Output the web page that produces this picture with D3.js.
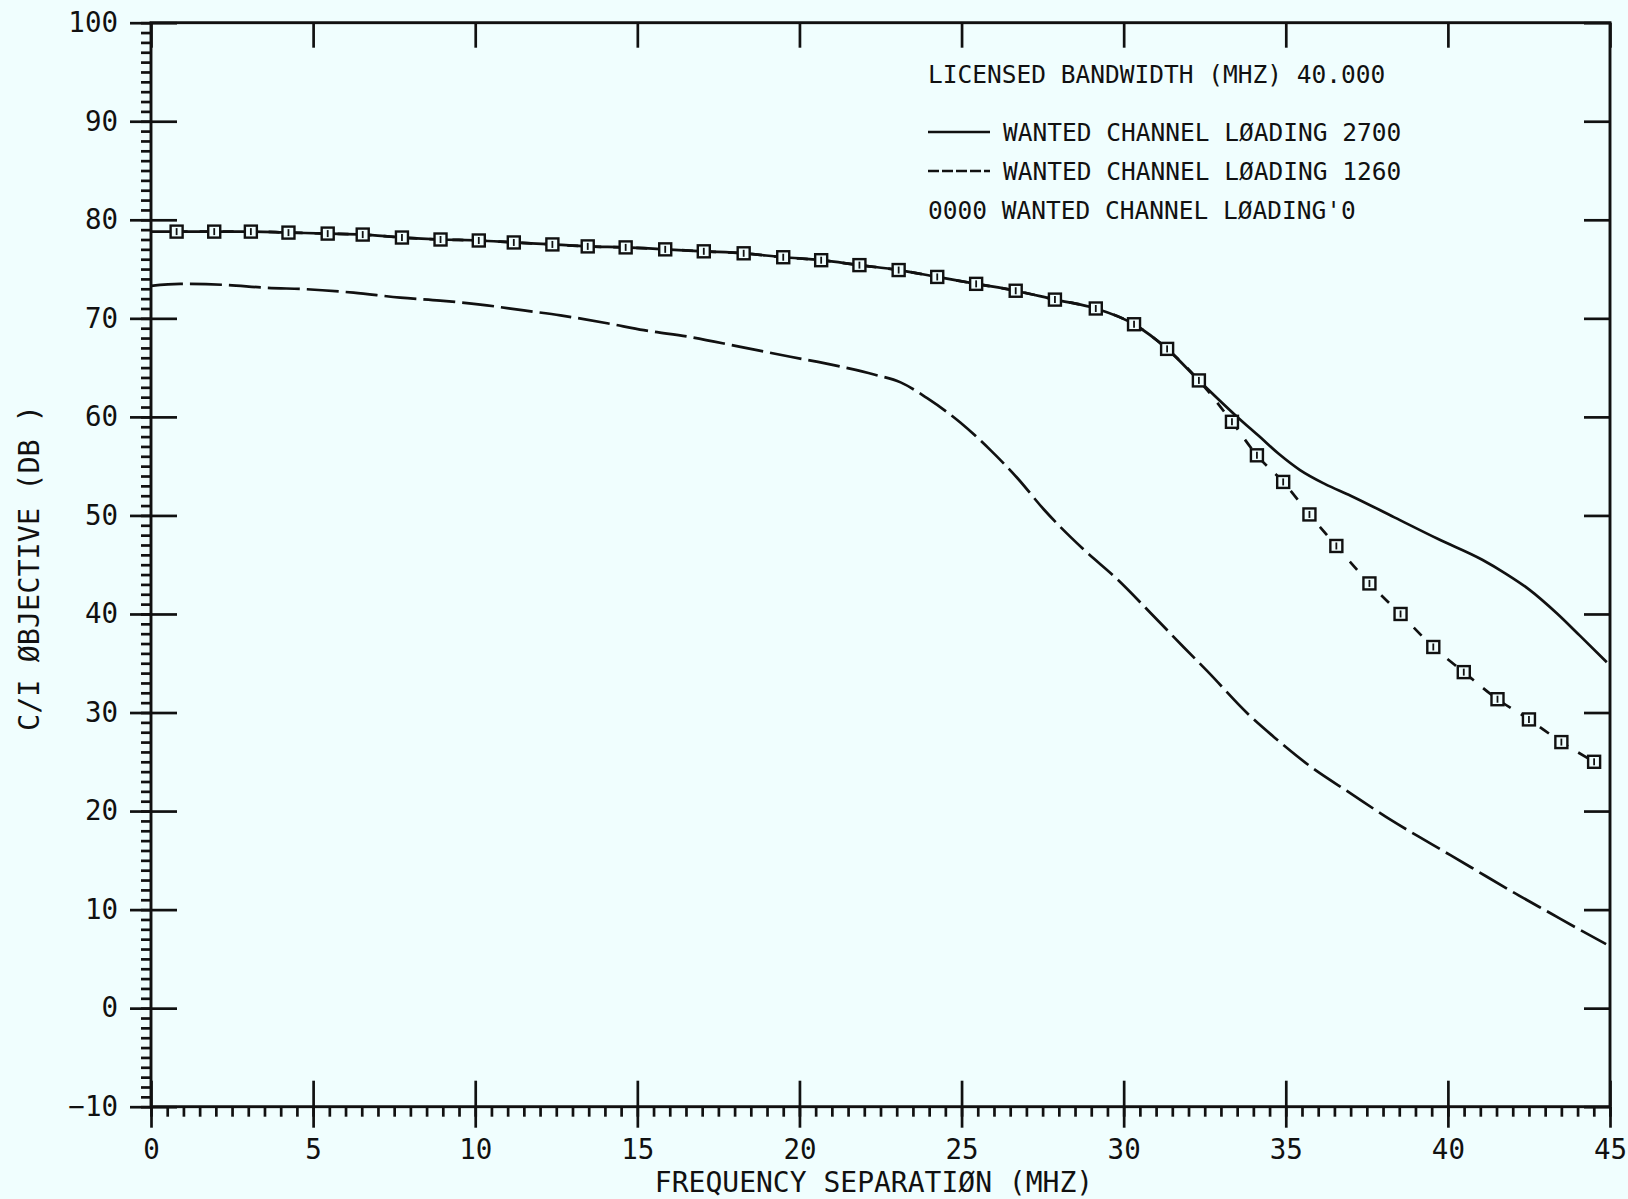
<!DOCTYPE html>
<html>
<head>
<meta charset="utf-8">
<script src="https://cdnjs.cloudflare.com/ajax/libs/d3/7.8.5/d3.min.js"></script>
<style>
	body { margin: 0; background: #f0fefe; }
	svg text { font-family: "DejaVu Sans Mono", "Liberation Mono", monospace; fill: #111; }
</style>
</head>
<body>
<svg id="chart" width="1628" height="1199"></svg>
<script>
// frequency separation (MHz), C/I objective (dB)
var loading2700 = [[0,78.8],[0.79,78.8],[1.95,78.8],[3.08,78.8],[4.24,78.7],[5.45,78.6],[6.53,78.5],[7.74,78.2],
	[8.93,78.0],[10.11,77.9],[11.19,77.7],[12.38,77.5],[13.47,77.3],[14.64,77.2],[15.86,77.0],[17.05,76.8],
	[18.28,76.6],[19.5,76.2],[20.67,75.9],[21.85,75.4],[23.06,74.9],[24.25,74.2],[25.45,73.5],[26.67,72.8],
	[27.88,71.9],[29.14,71.0],[30.32,69.4],[31.34,66.9],[32.32,63.7],[33.47,60.1],[34.19,58.0],[34.8,56.2],
	[35.44,54.6],[36.2,53.2],[37.0,52.0],[38.35,49.8],[39.7,47.6],[41.06,45.5],[41.78,44.1],[42.5,42.5],
	[43.35,40.1],[44.07,37.8],[44.9,35.1]];
var loading1260 = [[0,73.3],[0.9,73.5],[2.23,73.4],[3.57,73.1],[4.81,72.95],[6.25,72.6],[7.69,72.1],[8.92,71.8],
	[10.16,71.4],[11.5,70.8],[12.63,70.3],[14.07,69.5],[15.2,68.8],[16.64,68.1],[18.18,67.1],[19.72,66.1],
	[21.27,65.1],[22.3,64.3],[23.12,63.5],[23.94,61.9],[24.97,59.4],[25.9,56.6],[26.72,53.8],[27.54,50.6],
	[28.78,46.5],[29.81,43.5],[30.83,40.1],[31.86,36.6],[32.58,34.2],[33.82,29.9],[34.64,27.5],[35.77,24.5],
	[37.0,21.8],[38.24,19.1],[39.47,16.7],[40.71,14.3],[41.94,11.9],[43.18,9.6],[44.1,7.9],[44.88,6.5]];
var loading0 = [[0.79,78.8],[1.95,78.8],[3.08,78.8],[4.24,78.7],[5.45,78.6],[6.53,78.5],[7.74,78.2],[8.93,78.0],
	[10.11,77.9],[11.19,77.7],[12.38,77.5],[13.47,77.3],[14.64,77.2],[15.86,77.0],[17.05,76.8],[18.28,76.6],
	[19.5,76.2],[20.67,75.9],[21.85,75.4],[23.06,74.9],[24.25,74.2],[25.45,73.5],[26.67,72.8],[27.88,71.9],
	[29.14,71.0],[30.32,69.4],[31.34,66.9],[32.32,63.7],[33.34,59.5],[34.11,56.1],[34.92,53.4],[35.73,50.1],
	[36.56,46.9],[37.58,43.1],[38.54,40.0],[39.55,36.65],[40.49,34.1],[41.53,31.35],[42.5,29.3],[43.5,27.0],
	[44.51,25.0]];

var xMajor = d3.range(0, 46, 5);
var xMinor = d3.range(0, 45.01, 0.5);
var yMajor = d3.range(-10, 101, 10);
var yMinor = d3.range(-10, 101, 1);
var legendRows = ["LICENSED BANDWIDTH (MHZ) 40.000", "WANTED CHANNEL LØADING 2700", "WANTED CHANNEL LØADING 1260", "0000 WANTED CHANNEL LØADING'0"];

var padL = 151, padR = 1610, padT = 22.7, padB = 1106.7;
var ink = "#111";

var svg = d3.select("#chart");
var x = d3.scaleLinear().domain([0, 45]).range([padL, padR]);
var y = d3.scaleLinear().domain([-10, 100]).range([padB, padT]);

function styleAxis(g){
	g.select(".domain").remove();
	g.selectAll("line").attr("stroke", ink).attr("stroke-width", 2.7);
	g.selectAll("text").attr("fill", ink).style("font-size", "27.5px");
}

// left axis: minor out, major out + in
svg.append("g").attr("transform", "translate("+padL+",0)")
	.call(d3.axisLeft(y).tickValues(yMinor).tickSize(10).tickFormat("")).call(styleAxis);
svg.append("g").attr("transform", "translate("+padL+",0)")
	.call(d3.axisLeft(y).tickValues(yMajor).tickSize(21).tickPadding(12)).call(styleAxis);
svg.append("g").attr("transform", "translate("+padL+",0)")
	.call(d3.axisRight(y).tickValues(yMajor).tickSize(26).tickFormat("")).call(styleAxis);
// right axis
svg.append("g").attr("transform", "translate("+padR+",0)")
	.call(d3.axisLeft(y).tickValues(yMajor).tickSize(26).tickFormat("")).call(styleAxis);
// bottom axis
svg.append("g").attr("transform", "translate(0,"+padB+")")
	.call(d3.axisBottom(x).tickValues(xMinor).tickSize(10).tickFormat("")).call(styleAxis);
svg.append("g").attr("transform", "translate(0,"+padB+")")
	.call(d3.axisBottom(x).tickValues(xMajor).tickSize(21).tickPadding(12)).call(styleAxis);
svg.append("g").attr("transform", "translate(0,"+padB+")")
	.call(d3.axisTop(x).tickValues(xMajor).tickSize(26).tickFormat("")).call(styleAxis);
// top axis
svg.append("g").attr("transform", "translate(0,"+padT+")")
	.call(d3.axisBottom(x).tickValues(xMajor).tickSize(25).tickFormat("")).call(styleAxis);

svg.append("rect").attr("x", padL).attr("y", padT).attr("width", padR-padL).attr("height", padB-padT)
	.attr("fill", "none").attr("stroke", ink).attr("stroke-width", 2.9);

// curves
var line = d3.line().x(function(d){return x(d[0]);}).y(function(d){return y(d[1]);}).curve(d3.curveMonotoneX);

svg.append("path").datum(loading0).attr("d", line).attr("fill", "none")
	.attr("stroke", ink).attr("stroke-width", 2.7).attr("stroke-dasharray", "11,12");
svg.append("path").datum(loading2700).attr("d", line).attr("fill", "none")
	.attr("stroke", ink).attr("stroke-width", 2.7);
svg.append("path").datum(loading1260).attr("d", line).attr("fill", "none")
	.attr("stroke", ink).attr("stroke-width", 2.7).attr("stroke-dasharray", "32,7");

var marks = svg.append("g").selectAll("g").data(loading0).enter().append("g")
	.attr("transform", function(d){return "translate("+x(d[0])+","+y(d[1])+")";});
marks.append("rect").attr("x", -6).attr("y", -6).attr("width", 12).attr("height", 12)
	.attr("fill", "#f0fefe").attr("stroke", ink).attr("stroke-width", 2.4);
marks.append("line").attr("x1", 0).attr("x2", 0).attr("y1", -3.5).attr("y2", 3.5)
	.attr("stroke", ink).attr("stroke-width", 1.8);

// legend
var lg = svg.append("g").style("font-size", "24.5px");
lg.append("text").attr("x", 928).attr("y", 83).text(legendRows[0]);
lg.append("line").attr("x1", 928).attr("x2", 990).attr("y1", 132).attr("y2", 132)
	.attr("stroke", ink).attr("stroke-width", 2.4);
lg.append("text").attr("x", 1003).attr("y", 141).text(legendRows[1]);
lg.append("line").attr("x1", 928).attr("x2", 990).attr("y1", 171).attr("y2", 171)
	.attr("stroke", ink).attr("stroke-width", 2.4).attr("stroke-dasharray", "11,3");
lg.append("text").attr("x", 1003).attr("y", 180).text(legendRows[2]);
lg.append("text").attr("x", 928).attr("y", 219).text(legendRows[3]);

// axis titles
svg.append("text").attr("x", 874).attr("y", 1192).attr("text-anchor", "middle")
	.style("font-size", "28px").text("FREQUENCY SEPARATIØN  (MHZ)");
svg.append("text").attr("transform", "translate(39,568) rotate(-90)").attr("text-anchor", "middle")
	.style("font-size", "28.5px").text("C/I ØBJECTIVE (DB )");
</script>
</body>
</html>
